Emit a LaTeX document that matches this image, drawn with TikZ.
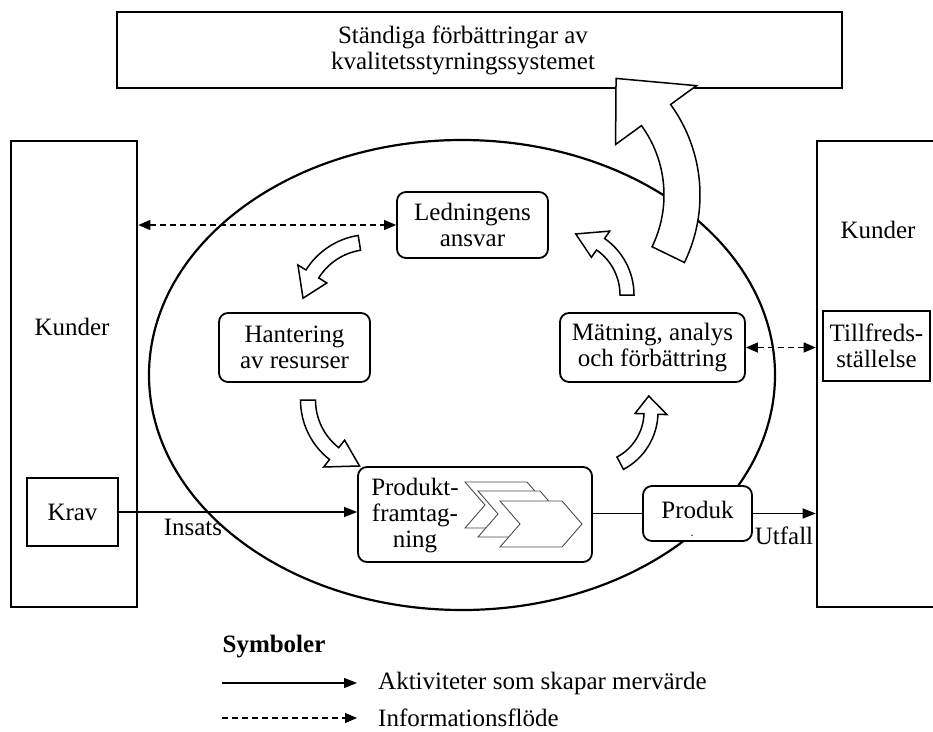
\documentclass[tikz,border=0pt]{standalone}
\usepackage{fontspec}
\setmainfont{Liberation Serif}
\usetikzlibrary{arrows.meta,calc}
\newcommand{\curvarrow}[8]{%
  \begin{scope}[shift={(#1,#2)}]
  \pgfmathsetmacro\cvro{#3+#4}\pgfmathsetmacro\cvri{#3-#4}%
  \pgfmathsetmacro\cvho{#3+#5}\pgfmathsetmacro\cvhi{#3-#5}%
  \draw[blockarrow] (#6:\cvro pt) arc[start angle=#6,end angle=#7,radius=\cvro pt]
    -- (#7:\cvho pt) -- (#8:#3pt) -- (#7:\cvhi pt) -- (#7:\cvri pt)
    arc[start angle=#7,end angle=#6,radius=\cvri pt] -- cycle;
  \end{scope}}
\begin{document}
\begin{tikzpicture}[x=1pt,y=1pt,
  every node/.style={inner sep=0pt},
  lbl/.style={font=\fontsize{25}{26}\selectfont, align=center},
  thickbox/.style={draw, line width=2.6pt, fill=white},
  sqbox/.style={draw, line width=2.2pt, fill=white, align=center, font=\fontsize{25}{26}\selectfont},
  rbox/.style={draw, line width=1.8pt, rounded corners=9pt, fill=white, align=center, font=\fontsize{25}{26}\selectfont},
  ellipseline/.style={line width=2.2pt},
  chev/.style={draw=black!70, line width=0.9pt, fill=white, line join=miter},
  blockarrow/.style={draw, line width=1.5pt, fill=white, line join=miter},
  flow/.style={line width=1.3pt, -{Triangle[length=13pt,width=10pt]}},
  info/.style={line width=1.3pt, dash pattern=on 6pt off 4pt, {Triangle[length=12pt,width=10pt]}-{Triangle[length=12pt,width=10pt]}},
  infoone/.style={line width=1.3pt, dash pattern=on 6pt off 4pt, -{Triangle[length=12pt,width=10pt]}}
]
\useasboundingbox (0,0) rectangle (933,-731);

% top box
\node[thickbox, minimum width=725pt, minimum height=76pt] (top) at (479.5,-50) {};
\node[lbl] (toptxt) at (463,-50) {Ständiga förbättringar av\\kvalitetsstyrningssystemet};

% ellipse
\draw[ellipseline] (462,-375) ellipse[x radius=313pt, y radius=235pt];

% customer boxes
\node[thickbox, minimum width=126pt, minimum height=466pt] (kl) at (74,-374) {};
\node[lbl] (klt) at (72,-327) {Kunder};
\node[thickbox, minimum width=128pt, minimum height=466pt] (kr) at (881,-374) {};
\node[lbl] (krt) at (878,-230) {Kunder};
\node[sqbox, minimum width=91pt, minimum height=68pt] (krav) at (72.5,-512) {Krav};
\node[sqbox, minimum width=107pt, minimum height=70pt] (tf) at (876.5,-346) {Tillfreds-\\ställelse};

% process boxes
\node[rbox, minimum width=151pt, minimum height=66pt] (led) at (472.5,-225) {Ledningens\\ansvar};
\node[rbox, minimum width=151pt, minimum height=69pt] (han) at (294.5,-347.5) {Hantering\\av resurser};
\node[rbox, minimum width=185pt, minimum height=69pt] (mat) at (652.5,-347.5) {Mätning, analys\\och förbättring};
\node[rbox, minimum width=234pt, minimum height=95pt] (prod) at (475,-514.5) {};
\node[lbl] (prodt) at (415,-516) {Produkt-\\framtag-\\ning};
\foreach \cx/\cy in {465/482, 478/491, 500/501}
  \draw[chev] (\cx,-\cy) -- ++(62,0) -- ++(20,-23) -- ++(-20,-23) -- ++(-62,0) -- ++(20,23) -- cycle;
\node[rbox, minimum width=109pt, minimum height=55pt] (pk) at (697.5,-513.5) {};
\node[lbl] (pkt) at (697.5,-510) {Produk};
\node[font=\fontsize{12}{12}\selectfont] (dot) at (692,-536) {.};

% connectors
\draw[info] (kl.east |- led.west) -- (led.west);
\draw[info] (mat.east) -- (mat.east -| kr.west);
\draw[flow] (krav.east) -- (krav.east -| prod.west);
\draw[line width=1.3pt] (prod.east |- pk.west) -- (pk.west);
\draw[flow] (pk.east) -- (pk.east -| kr.west);
\node[lbl] (ins) at (193,-527) {Insats};
\node[lbl] (utf) at (784,-536) {Utfall};

% curved block arrows
\curvarrow{370}{-310}{68}{7.5}{17}{99}{148}{170}
\curvarrow{376}{-400}{68}{7.5}{17}{180}{232}{256}
\curvarrow{593}{-412}{58}{7}{16}{-62}{-2}{16}
\curvarrow{565}{-295}{62}{7}{16}{0}{55}{80}
\curvarrow{546}{-195}{136}{18}{50}{-26}{36}{59}

% legend
\node[lbl, font=\fontsize{25}{26}\selectfont\bfseries] (sym) at (274,-647) {Symboler};
\coordinate (l1a) at (222,-683);
\coordinate (l1b) at (357,-683);
\draw[flow] (l1a) -- (l1b);
\node[lbl, anchor=west] (l1t) at (378,-683) {Aktiviteter som skapar mervärde};
\coordinate (l2a) at (222,-718);
\coordinate (l2b) at (357,-718);
\draw[infoone] (l2a) -- (l2b);
\node[lbl, anchor=west] (l2t) at (378,-718) {Informationsflöde};
\end{tikzpicture}
\end{document}
